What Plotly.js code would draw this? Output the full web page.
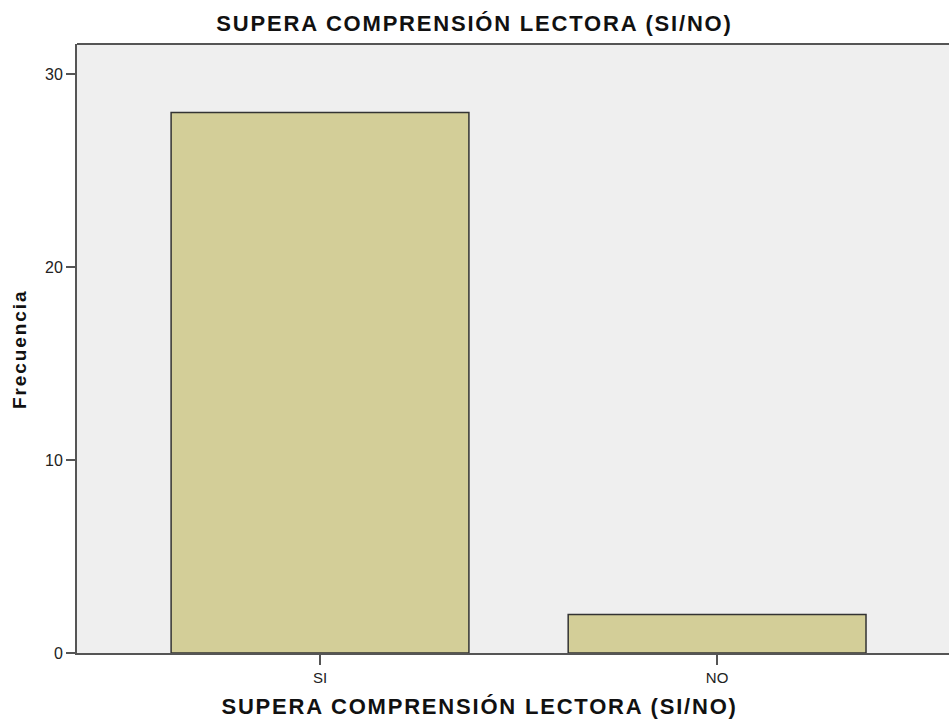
<!DOCTYPE html>
<html>
<head>
<meta charset="utf-8">
<script src="https://cdn.plot.ly/plotly-3.0.1.min.js"></script>
<style>
html,body{margin:0;padding:0;background:#fff;}
#chart{width:949px;height:719px;}
#chart .gtitle{letter-spacing:1.8px;}
</style>
</head>
<body>
<div id="chart"></div>
<script>
const categories = ["SI", "NO"];
const frecuencia = [28, 2];
const yTicks = [0, 10, 20, 30];
const chartTitle = "SUPERA COMPRENSIÓN LECTORA (SI/NO)";
const xTitle = "SUPERA COMPRENSIÓN LECTORA (SI/NO)";
const yTitle = "Frecuencia";

const trace = {
  type: "bar",
  x: categories,
  y: frecuencia,
  width: 0.75,
  marker: {color: "#d3ce98", line: {color: "#333333", width: 1.5}},
  hoverinfo: "x+y"
};

const layout = {
  width: 949, height: 719,
  margin: {l: 77, r: 0, t: 44, b: 66},
  paper_bgcolor: "#ffffff",
  plot_bgcolor: "#efefef",
  font: {family: "Liberation Sans, Arial, sans-serif", color: "#222"},
  title: {text: "<b>" + chartTitle + "</b>", font: {size: 22, color: "#111"}, x: 0.5, xanchor: "center", y: 0.968, yanchor: "middle"},
  xaxis: {
    type: "category", range: [-0.612, 1.584],
    showline: true, linecolor: "#555", linewidth: 2,
    ticks: "outside", ticklen: 10, tickcolor: "#555", tickwidth: 1.5,
    tickfont: {size: 15, color: "#222"},
    showgrid: false, zeroline: false
  },
  yaxis: {
    range: [0, 31.55], tickvals: yTicks,
    showline: true, linecolor: "#555", linewidth: 2,
    ticks: "outside", ticklen: 9, tickcolor: "#555", tickwidth: 1.5,
    tickfont: {size: 16, color: "#222"},
    showgrid: false, zeroline: false
  },
  annotations: [
    {
      text: "<b>" + xTitle + "</b>", xref: "paper", yref: "paper",
      x: 0.4616, y: -0.088, xanchor: "center", yanchor: "middle",
      showarrow: false, font: {size: 22, color: "#111"}
    },
    {
      text: "<b>" + yTitle + "</b>", xref: "paper", yref: "paper",
      x: -0.0654, y: 0.5, xanchor: "center", yanchor: "middle", textangle: -90,
      showarrow: false, font: {size: 19, color: "#111"}
    }
  ],
  shapes: [{type: "line", xref: "paper", yref: "paper", x0: 0, x1: 1, y0: 1, y1: 1, line: {color: "#555", width: 2}}],
  showlegend: false
};

Plotly.newPlot("chart", [trace], layout, {displayModeBar: false}).then(function(){
  const spacing = ["1.8px", "1.9px"];
  document.querySelectorAll("#chart .annotation-text").forEach(function(t, i){ t.style.letterSpacing = spacing[i] || "1.8px"; });
});
</script>
</body>
</html>
